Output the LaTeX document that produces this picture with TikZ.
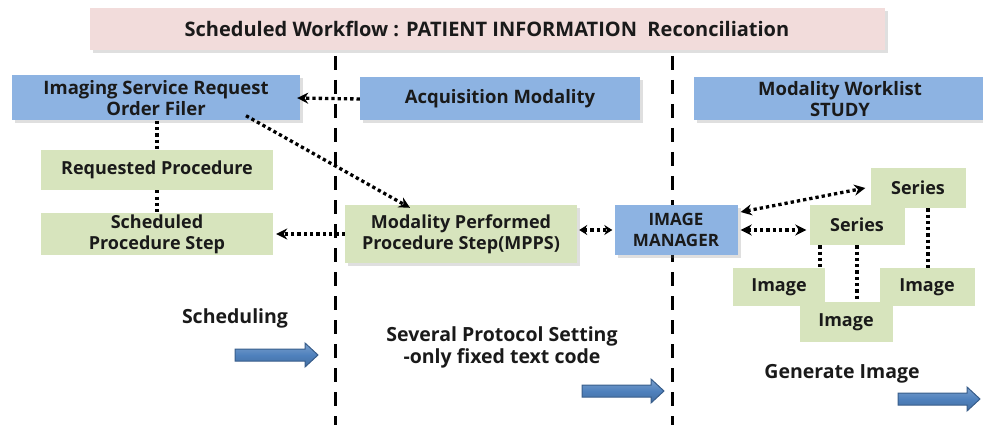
\documentclass[tikz,border=0pt]{standalone}
\usepackage{fontspec}
\setmainfont{Open Sans}
\usetikzlibrary{arrows.meta,shadows,calc}

\definecolor{titlepink}{HTML}{F2DCDB}
\definecolor{boxblue}{HTML}{8DB3E2}
\definecolor{boxgreen}{HTML}{D7E4BD}
\definecolor{arrowblue}{HTML}{4F81BD}
\definecolor{arrowedge}{HTML}{385D8A}
\definecolor{ink}{HTML}{1A1A1A}

\tikzset{
  shade/.style={drop shadow={opacity=0.25,shadow xshift=3pt,shadow yshift=-3pt}},
  titlebox/.style={fill=titlepink,shade,inner sep=0pt,font=\bfseries\fontsize{20}{23}\selectfont,text=ink},
  bluebox/.style={fill=boxblue,shade,inner sep=0pt,align=center,font=\bfseries\fontsize{18.5}{21}\selectfont,text=ink},
  greenbox/.style={fill=boxgreen,inner sep=0pt,align=center,font=\bfseries\fontsize{18}{21}\selectfont,text=ink},
  caption/.style={align=center,font=\bfseries\fontsize{19.5}{22}\selectfont,text=ink},
  divider/.style={line width=3pt,dash pattern=on 14pt off 10pt},
  dots/.style={line width=3.3pt,dash pattern=on 3.3pt off 3pt},
  tip/.style={dots,-{Stealth[length=11pt,width=11pt]}},
  twotip/.style={dots,{Stealth[length=11pt,width=11pt]}-{Stealth[length=11pt,width=11pt]}},
  shorttwotip/.style={dots,{Stealth[length=8pt,width=10pt]}-{Stealth[length=8pt,width=10pt]}},
  flow/.style={draw=arrowedge,line width=1pt,top color=arrowblue!75!white,bottom color=arrowblue!85!black,middle color=arrowblue},
}
% block arrow pointing right: start x, end x, centre y
\newcommand\flowarrow[3]{%
  \path[flow] (#1,#3-6) -- (#2-13,#3-6) -- (#2-13,#3-12) -- (#2,#3)
    -- (#2-13,#3+12) -- (#2-13,#3+6) -- (#1,#3+6) -- cycle;}

\begin{document}
\begin{tikzpicture}[x=1pt,y=-1pt]
\useasboundingbox (0,0) rectangle (983,441);

% lane dividers
\coordinate (d1top) at (335,56);
\coordinate (d1bot) at (335,425);
\coordinate (d2top) at (672,56);
\coordinate (d2bot) at (672,425);
\draw[divider] (d1top) -- (d1bot);
\draw[divider] (d2top) -- (d2bot);

% title
\node[titlebox,minimum width=795pt,minimum height=42pt] (title) at (487,29)
  {Scheduled Workflow : PATIENT INFORMATION\ \ Reconciliation};

% top row
\node[bluebox,minimum width=288pt,minimum height=45pt] (filer) at (156,98)
  {Imaging Service Request\\Order Filer};
\node[bluebox,minimum width=280pt,minimum height=43pt] (acq) at (500,99)
  {Acquisition Modality};
\node[bluebox,minimum width=292pt,minimum height=43pt] (mwl) at (840,99)
  {Modality Worklist\\STUDY};

% scheduling lane
\node[greenbox,minimum width=232pt,minimum height=40pt] (req) at (157,170)
  {Requested Procedure};
\node[greenbox,minimum width=232pt,minimum height=42pt] (sps) at (157,234)
  {Scheduled\\Procedure Step};

% acquisition lane
\node[greenbox,shade,minimum width=232pt,minimum height=58pt] (mpps) at (461,234)
  {Modality Performed\\Procedure Step(MPPS)};

% image manager lane
\node[bluebox,font=\bfseries\fontsize{17}{21}\selectfont,minimum width=123pt,minimum height=50pt] (mgr) at (676,230)
  {IMAGE\\MANAGER};
\node[greenbox,minimum width=95pt,minimum height=40pt] (ser1) at (918,188) {Series};
\node[greenbox,minimum width=95pt,minimum height=40pt] (ser2) at (857,225) {Series};
\node[greenbox,minimum width=92pt,minimum height=38pt] (img1) at (779,287) {Image};
\node[greenbox,minimum width=95pt,minimum height=38pt] (img3) at (927,287) {Image};
\node[greenbox,minimum width=93pt,minimum height=40pt] (img2) at (846,322) {Image};

% connectors
\draw[tip] (acq.west) -- ([xshift=-3pt]filer.east);
\draw[dots] ([xshift=1pt]filer.south) -- (req.north);
\draw[dots] (req.south) -- (sps.north);
\draw[tip] ([xshift=90pt,yshift=5pt]filer.south) -- ([xshift=-51pt,yshift=-3pt]mpps.north);
\draw[tip] (mpps.west) -- ([xshift=3pt]sps.east);
\draw[shorttwotip] ($(mpps.east |- mgr.west)+(2,0)$) -- ($(mgr.west)+(-2,0)$);
\draw[twotip] ($(mgr.east)+(3,-18)$) -- ($(ser1.west)+(-5,0)$);
\draw[twotip] ($(mgr.east)+(3,0)$) -- ($(ser2.west)+(-3,5)$);
\draw[dots] ($(ser2.south)+(-37,0)$) -- ($(ser2.south |- img1.north)+(-37,0)$);
\draw[dots] (ser2.south) -- (ser2.south |- img2.north);
\draw[dots] ($(ser1.south)+(10,0)$) -- ($(ser1.south |- img3.north)+(10,0)$);

% captions and flow arrows
\node[caption] (schedtxt) at (235,318) {Scheduling};
\node[caption] (prottxt) at (502,347) {Several Protocol Setting\\-only fixed text code};
\node[caption] (gentxt) at (842,374) {Generate Image};
\flowarrow{235}{318}{355}
\flowarrow{582}{664}{391}
\flowarrow{898}{980}{399}
\end{tikzpicture}
\end{document}
